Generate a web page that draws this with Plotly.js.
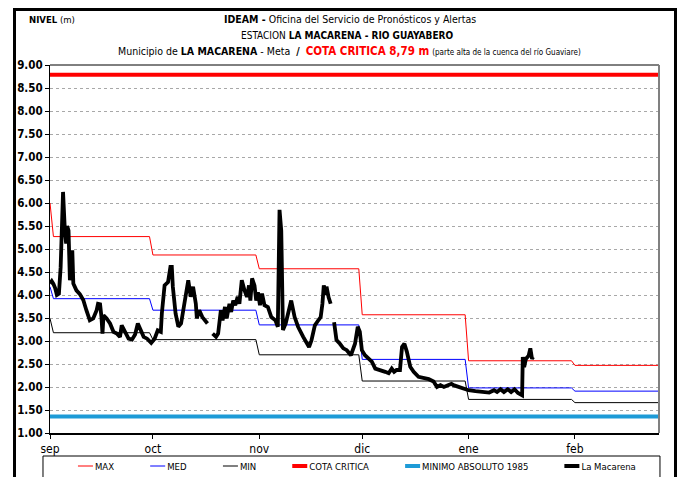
<!DOCTYPE html>
<html>
<head>
<meta charset="utf-8">
<script src="https://cdn.plot.ly/plotly-3.0.1.min.js"></script>
<style>
  html, body { margin: 0; padding: 0; background: #fff; }
  #wrap { position: relative; width: 686px; height: 477px; overflow: hidden; }
  #chart { position: absolute; left: 0; top: 0; width: 686px; height: 477px; }
  #frame { position: absolute; left: 13px; top: 8px; width: 658px; height: 520px;
           border: 3px solid #000; pointer-events: none; }
</style>
</head>
<body>
<div id="wrap">
  <div id="chart"></div>
  <div id="frame"></div>
</div>
<script>
// ---------- DATA ----------
const monthLabels = ['sep', 'oct', 'nov', 'dic', 'ene', 'feb'];
const monthStarts = ['2023-09-01', '2023-10-01', '2023-11-01', '2023-12-01', '2024-01-01', '2024-02-01'];
const monthEnds   = ['2023-09-30', '2023-10-31', '2023-11-30', '2023-12-31', '2024-01-31', '2024-02-29'];

// first-day values (Sep 1) followed by monthly levels
const maxFirst = 6.00, medFirst = 4.18, minFirst = 3.49;
const maxLevel = [5.27, 4.87, 4.57, 3.57, 2.57, 2.47];
const medLevel = [3.92, 3.67, 3.35, 2.60, 1.98, 1.91];
const minLevel = [3.18, 3.03, 2.70, 2.13, 1.73, 1.66];

const cotaCritica = 8.79;
const minimoAbsoluto1985 = 1.36;

// observed level "La Macarena": days after Sep 1 and level (m); null = gap
const obsDay = [
  0, 0.5, 1, 1.5, 2, 2.6, 3.1, 3.8, 4.3, 4.7, 5.0, 5.4, 5.8, 6.2, 6.5, 6.8, 7.7, 8.7, 9.7, 10.6,
  11.6, 12.6, 13.6, 14.0, 14.6, 15.0, 15.3, 15.6, 16.5, 17.5, 18.5, 19.5, 20.4, 20.9, 21.9, 22.9, 23.9, 24.8, 25.6, 26.5,
  27.3, 28.3, 29.5, 30.5, 31.4, 32.3, 32.6, 33.4, 34.4, 35.1, 35.5, 35.8, 36.6, 37.4, 38.2, 39.0, 40.3, 41.0, 41.7, 42.5,
  42.8, 43.5, 44.4, 45.9, 46.6, 47.4, 48.4, 49.0, 49.8, 50.3, 51.0, 51.5, 52.3, 52.8, 53.4, 54.0, 54.7, 55.2, 55.9, 56.7,
  57.4, 58.0, 58.4, 58.9, 59.6, 60.1, 60.6, 61.2, 61.8, 62.5, 63.5, 64.5, 65.7, 66.4, 66.9, 67.4, 67.9, 68.7, 70.3, 71.3,
  72.3, 73.8, 74.8, 75.5, 76.2, 77.2, 78.2, 78.9, 79.4, 79.8, 80.2, 80.6, 81.2, 81.8, 82.3, 82.8, 83.5, 84.5, 85.5, 86.5,
  87.7, 88.9, 89.7, 90.3, 90.9, 91.8, 92.8, 93.8, 94.8, 96.3, 97.7, 98.7, 99.6, 100.3, 101.0, 102.0, 102.6, 103.3, 104.0, 105.0,
  106.0, 107.4, 108.9, 110.4, 111.8, 112.8, 113.8, 114.8, 116.0, 117.0, 117.6, 119.2, 120.6, 122.0, 124.0, 126.0, 128.0, 129.4, 130.3, 131.3,
  132.3, 133.4, 134.4, 135.4, 136.4, 137.6, 137.8, 138.2, 138.7, 139.5, 140.0, 140.5, 140.8
];
const obsLevel = [
  4.25, 4.30, 4.24, 4.15, 4.00, 4.03, 4.60, 6.24, 5.45, 5.12, 5.50, 5.40, 4.32, 4.60, 4.97, 4.25, 4.10, 4.02, 3.89, 3.67,
  3.45, 3.49, 3.67, 3.81, 3.80, 3.52, 3.16, 3.56, 3.49, 3.38, 3.20, 3.16, 3.09, 3.34, 3.20, 3.05, 3.03, 3.14, 3.38, 3.20,
  3.09, 3.05, 2.96, 3.05, 3.23, 3.20, 3.60, 4.21, 4.28, 4.61, 4.61, 4.18, 3.60, 3.31, 3.38, 3.74, 4.32, 3.96, 4.18, 3.81,
  3.49, 3.67, 3.52, 3.38, null, 3.16, 3.09, 3.16, 3.67, 3.45, 3.74, 3.49, 3.81, 3.63, 3.88, 3.78, 3.96, 3.81, 4.32, 4.10,
  3.96, 4.21, 3.88, 4.36, 4.21, 3.88, 4.06, 3.78, 4.03, 3.78, 3.74, 3.52, 3.45, 3.31, 5.85, 5.40, 3.24, 3.38, 3.88, 3.52,
  3.31, 3.09, 2.94, 2.87, 3.01, 3.34, 3.45, 3.52, 3.81, 4.21, 4.00, 4.18, 3.95, 3.81, null, 3.41, 3.02, 2.94, 2.84, 2.80,
  2.69, 2.94, 3.31, 3.20, 2.80, 2.69, 2.62, 2.55, 2.40, 2.37, 2.33, 2.30, 2.40, 2.33, 2.37, 2.37, 2.87, 2.94, 2.77, 2.44,
  2.33, 2.22, 2.19, 2.17, 2.12, 2.00, 2.04, 2.00, 2.04, 2.07, 2.04, 2.00, 1.97, 1.93, 1.91, 1.89, 1.88, 1.93, 1.89, 1.95,
  1.89, 1.95, 1.89, 1.95, 1.87, 1.82, 2.65, 2.43, 2.61, 2.68, 2.84, 2.61, 2.65
];

const yTickVals = [1, 1.5, 2, 2.5, 3, 3.5, 4, 4.5, 5, 5.5, 6, 6.5, 7, 7.5, 8, 8.5, 9];

// ---------- helpers ----------
const t0 = Date.UTC(2023, 8, 1);
function dayToDate(d) {
  return new Date(t0 + d * 86400000).toISOString().replace('T', ' ').slice(0, 19);
}
function stepSeries(first, levels) {
  const x = [monthStarts[0]], y = [first];
  levels.forEach((v, i) => {
    x.push(i === 0 ? '2023-09-02' : monthStarts[i]); y.push(v);
    x.push(monthEnds[i]); y.push(v);
  });
  return {x, y};
}
const xStart = monthStarts[0];
const xEnd = '2024-02-25 12:00';

const maxS = stepSeries(maxFirst, maxLevel);
const medS = stepSeries(medFirst, medLevel);
const minS = stepSeries(minFirst, minLevel);

const narrow = '"Liberation Sans Narrow", "Arial Narrow", "DejaVu Sans Condensed", sans-serif';
const legendItemWidth = 38;

const traces = [
  {x: maxS.x, y: maxS.y, name: 'MAX', mode: 'lines', line: {color: '#FF0000', width: 1}},
  {x: medS.x, y: medS.y, name: 'MED', mode: 'lines', line: {color: '#0000FF', width: 1}},
  {x: minS.x, y: minS.y, name: 'MIN', mode: 'lines', line: {color: '#000000', width: 1}},
  {x: [monthStarts[0], monthEnds[5]], y: [cotaCritica, cotaCritica], name: 'COTA CRITICA',
   mode: 'lines', line: {color: '#FF0000', width: 4}},
  {x: [monthStarts[0], monthEnds[5]], y: [minimoAbsoluto1985, minimoAbsoluto1985], name: 'MINIMO ABSOLUTO 1985',
   mode: 'lines', line: {color: '#1E9BD7', width: 4}},
  {x: obsDay.map(dayToDate), y: obsLevel, name: 'La Macarena', mode: 'lines', connectgaps: false,
   line: {color: '#000000', width: 3.8}}
];

const layout = {
  width: 686, height: 477,
  margin: {l: 50, r: 27, t: 65, b: 44, autoexpand: false},
  paper_bgcolor: '#ffffff', plot_bgcolor: '#ffffff',
  showlegend: true,
  legend: {
    orientation: 'h', x: -0.005, xanchor: 'left', y: -0.0897, yanchor: 'middle',
    font: {family: narrow, size: 9.5, color: '#000'}, bgcolor: 'rgba(0,0,0,0)',
    borderwidth: 0, tracegroupgap: 0, itemwidth: legendItemWidth
  },
  xaxis: {
    type: 'date', range: [xStart, xEnd],
    tickvals: monthStarts, ticktext: monthLabels,
    ticks: 'outside', ticklen: 4, tickcolor: '#000',
    showgrid: false, zeroline: false,
    showline: true, linecolor: '#000', linewidth: 2,
    tickfont: {family: narrow, size: 12, color: '#000'}
  },
  yaxis: {
    range: [1, 9], tickvals: yTickVals, tickformat: '.2f',
    ticks: 'outside', ticklen: 4, tickcolor: '#000',
    showgrid: true, gridcolor: '#A8A8A8', griddash: 'dot', gridwidth: 1,
    zeroline: false, showline: true, linecolor: '#000', linewidth: 1,
    tickfont: {family: narrow, size: 11.5, color: '#000', weight: 'bold'}
  },
  shapes: [
    {type: 'line', xref: 'paper', yref: 'paper', x0: 0, x1: 1, y0: 1, y1: 1, line: {color: '#000', width: 1}},
    {type: 'line', xref: 'paper', yref: 'paper', x0: 1, x1: 1, y0: 0, y1: 1, line: {color: '#808080', width: 2}},
    {type: 'rect', xref: 'paper', yref: 'paper', x0: -0.0115, x1: 1.0016, y0: -0.0625, y1: -0.2,
     line: {color: '#000', width: 1}, fillcolor: 'rgba(0,0,0,0)'}
  ],
  annotations: [
    {xref: 'paper', yref: 'paper', x: 0.003, y: 1.125, xanchor: 'center', yanchor: 'middle', showarrow: false,
     text: '<b>NIVEL</b> (m)', font: {family: narrow, size: 9.5, color: '#000'}},
    {xref: 'paper', yref: 'paper', x: 0.4926, y: 1.125, xanchor: 'center', yanchor: 'middle', showarrow: false,
     text: '<b>IDEAM -</b> Oficina del Servicio de Pronósticos y Alertas', font: {family: narrow, size: 10.5, color: '#000'}},
    {xref: 'paper', yref: 'paper', x: 0.487, y: 1.0815, xanchor: 'center', yanchor: 'middle', showarrow: false,
     text: 'ESTACION <b>LA MACARENA - RIO GUAYABERO</b>', font: {family: narrow, size: 10, color: '#000'}},
    {xref: 'paper', yref: 'paper', x: 0.4926, y: 1.038, xanchor: 'center', yanchor: 'middle', showarrow: false,
     text: 'Municipio de <b>LA MACARENA</b> - Meta  <b>/</b>  <span style="color:#FF0000;font-size:11.5px"><b>COTA CRITICA 8,79 m</b></span> <span style="font-size:8px">(parte alta de la cuenca del río Guaviare)</span>',
     font: {family: narrow, size: 10.5, color: '#000'}}
  ]
};

Plotly.newPlot('chart', traces, layout, {displayModeBar: false, staticPlot: true}).then(function (gd) {
  // shorten legend sample lines so they sit right before the label, as in the original
  const start = legendItemWidth + 10 - 17;
  gd.querySelectorAll('.legend .legendlines path').forEach(function (p) {
    const d = p.getAttribute('d');
    if (d && /^M5,0h/.test(d)) p.setAttribute('d', 'M' + start + ',0h15');
  });
});
</script>
</body>
</html>
